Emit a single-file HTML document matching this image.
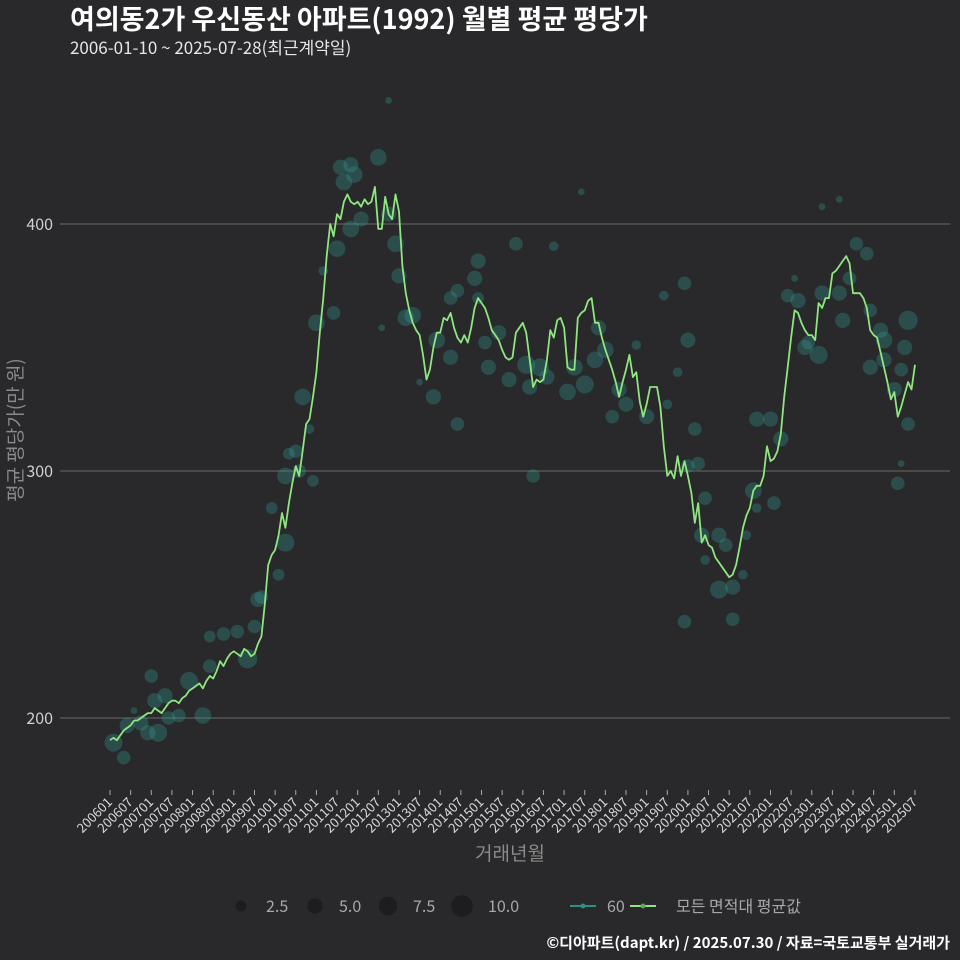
<!DOCTYPE html>
<html><head><meta charset="utf-8">
<style>
html,body{margin:0;padding:0;background:#29282a;}
svg{display:block;font-family:"Noto Sans CJK KR","Liberation Sans",sans-serif;}
</style></head>
<body>
<svg id="chart" width="960" height="960">
<rect width="960" height="960" fill="#29282a"/>
<text x="70" y="29" fill="#ffffff" font-size="27" font-weight="bold">여의동2가 우신동산 아파트(1992) 월별 평균 평당가</text>
<text x="70" y="54" fill="#e6e6e6" font-size="17">2006-01-10 ~ 2025-07-28(최근계약일)</text>
<g id="grid"></g>
<g id="yaxis"></g>
<g id="xaxis"></g>
<g id="bubbles"></g>
<g id="line"></g>
<text transform="translate(22,430) rotate(-90)" text-anchor="middle" fill="#8a8a8a" font-size="19">평균 평당가(만 원)</text>
<text x="510" y="860" text-anchor="middle" fill="#8a8a8a" font-size="19">거래년월</text>
<g>
<circle cx="241" cy="906" r="5.4" fill="#1d1c1e"/>
<text x="266" y="912" fill="#a8a8a8" font-size="16">2.5</text>
<circle cx="315" cy="906" r="7.6" fill="#1d1c1e"/>
<text x="339" y="912" fill="#a8a8a8" font-size="16">5.0</text>
<circle cx="388" cy="906" r="9.3" fill="#1d1c1e"/>
<text x="413" y="912" fill="#a8a8a8" font-size="16">7.5</text>
<circle cx="462" cy="906" r="10.8" fill="#1d1c1e"/>
<text x="488" y="912" fill="#a8a8a8" font-size="16">10.0</text>
<line x1="570" y1="906" x2="596" y2="906" stroke="#2f8f86" stroke-width="2"/>
<circle cx="583" cy="906" r="2.5" fill="#2f8f86"/>
<text x="607" y="912" fill="#a8a8a8" font-size="16">60</text>
<line x1="630" y1="906" x2="656" y2="906" stroke="#8fe680" stroke-width="2"/>
<circle cx="643" cy="906" r="2.5" fill="#5fa85a"/>
<text x="676" y="912" fill="#a8a8a8" font-size="16">모든 면적대 평균값</text>
</g>
<text x="950" y="948" text-anchor="end" fill="#ffffff" font-size="15" font-weight="bold">©디아파트(dapt.kr) / 2025.07.30 / 자료=국토교통부 실거래가</text>
</svg>
<script>
const startYear = 2006;
const avgValues = [
191,192,191,193,195,196,197,199,199,200,201,202,
202,204,203,202,204,206,207,207,206,208,209,211,
212,213,214,212,215,217,216,219,223,221,224,226,
227,226,225,228,227,225,226,230,233,246,262,266,
268,274,283,277,287,295,302,298,308,319,321,330,
340,356,370,387,400,395,404,402,409,412,409,408,
409,407,410,408,409,415,398,398,411,404,402,412,
405,383,372,365,360,357,355,347,337,341,350,356,
356,362,361,364,358,354,352,355,352,358,366,370,
368,366,362,357,355,353,349,346,345,346,356,358,
360,356,345,334,337,336,337,345,357,354,361,362,
358,342,341,341,362,364,365,369,370,360,360,354,
349,345,341,336,330,336,341,347,338,340,328,322,
327,334,334,334,326,310,298,300,297,306,298,304,
298,291,279,287,271,274,270,269,265,263,261,259,
257,258,262,269,277,282,285,292,294,294,298,310,
304,305,308,315,330,342,354,365,364,360,357,355,
355,353,368,366,370,370,380,381,383,385,387,384,
372,372,372,370,366,357,355,354,348,342,336,329,
332,322,326,331,336,333,343];
const bubbleMonth = [1,4,5,7,9,11,12,14,13,16,17,20,23,27,29,29,33,37,40,42,43,44,49,51,47,51,52,54,55,58,56,59,60,65,62,66,67,70,68,71,73,70,78,81,83,81,79,84,86,88,90,94,95,99,101,99,101,107,106,107,109,110,113,116,118,121,122,123,125,127,129,135,133,138,137,141,142,144,148,146,150,153,156,161,165,168,168,167,162,170,171,173,173,167,172,177,179,177,181,181,184,185,187,188,188,192,193,195,197,199,200,202,203,206,207,207,212,212,215,213,217,220,221,221,225,225,228,224,230,232,229,230,232,231];
const bubbleValue = [190,184,197,203,198,194,217,194,207,209,200,201,215,201,221,233,234,235,224,237,248,249,258,271,285,298,307,308,300,317,330,296,360,364,381,390,423,424,417,420,402,398,427,404,392,450,358,379,362,363,336,330,353,370,373,346,319,370,378,385,352,342,356,337,392,343,334,298,342,338,391,342,332,335,413,345,358,349,333,322,327,351,322,371,340,353,302,376,327,317,303,289,264,239,274,274,270,252,253,240,258,274,292,285,321,321,287,313,371,378,369,350,352,347,372,407,410,372,378,361,392,388,342,365,345,353,333,357,341,361,295,303,319,350];
const bubbleSize = [7,4,5,1,5,5,4,7,5,5,4,4,7,6,4,3,4,4,8,4,5,4,3,7,3,6,3,4,4,2,6,3,6,4,2,6,5,5,6,6,5,6,6,5,6,1,1,5,6,6,1,5,6,4,4,5,4,3,5,5,4,5,5,5,4,7,5,4,7,5,2,6,6,7,1,6,5,6,5,4,5,2,5,2,2,5,4,4,2,4,4,4,2,4,5,5,4,7,5,4,2,2,6,2,5,5,4,5,4,1,5,5,4,7,5,1,1,5,4,5,4,4,5,4,5,6,5,5,4,8,4,1,4,5];
const yTicks = [200,300,400];

const NS='http://www.w3.org/2000/svg';
const x0=110, dx=3.44;
function xScale(i){return x0+dx*i;}
function yScale(v){return 718-(v-200)*2.47;}
function mk(tag,attrs,parent){const e=document.createElementNS(NS,tag);for(const k in attrs)e.setAttribute(k,attrs[k]);parent.appendChild(e);return e;}

const grid=document.getElementById('grid'), yax=document.getElementById('yaxis'), xax=document.getElementById('xaxis');
yTicks.forEach(t=>{
  const l=mk('line',{x1:60,x2:950,y1:yScale(t),y2:yScale(t),stroke:'#6a6a6a','stroke-width':1},grid);
  
  
  const tx=mk('text',{x:53,y:yScale(t)+6,'text-anchor':'end',fill:'#cfcfcf','font-size':16},yax);
  tx.textContent=t;
  
  
});
for(let i=0;i<avgValues.length;i+=6){
  const y=startYear+Math.floor(i/12), m=(i%12)+1;
  const lab=''+y+(m<10?'0':'')+m;
  const x=xScale(i);
  const tk=mk('line',{x1:x,x2:x,y1:790,y2:795,stroke:'#aaaaaa','stroke-width':1},xax);
  
  
  const tx=mk('text',{x:x+3,y:803,'text-anchor':'end',fill:'#d8d8d8','font-size':13,transform:'rotate(-45 '+(x+3)+' 803)'},xax);
  tx.textContent=lab;
  
  
}
const bg=document.getElementById('bubbles');
for(let k=0;k<bubbleMonth.length;k++){
  const c=mk('circle',{cx:xScale(bubbleMonth[k]),cy:yScale(bubbleValue[k]),r:3.4*Math.sqrt(bubbleSize[k]),fill:'rgba(50,150,140,0.35)'},bg);
  
  
}
const pts=avgValues.map((v,i)=>xScale(i).toFixed(1)+','+yScale(v).toFixed(1)).join(' ');
const pl=mk('polyline',{points:pts,fill:'none',stroke:'#8fe680','stroke-width':1.8,'stroke-linejoin':'round'},document.getElementById('line'));


</script>
</body></html>
